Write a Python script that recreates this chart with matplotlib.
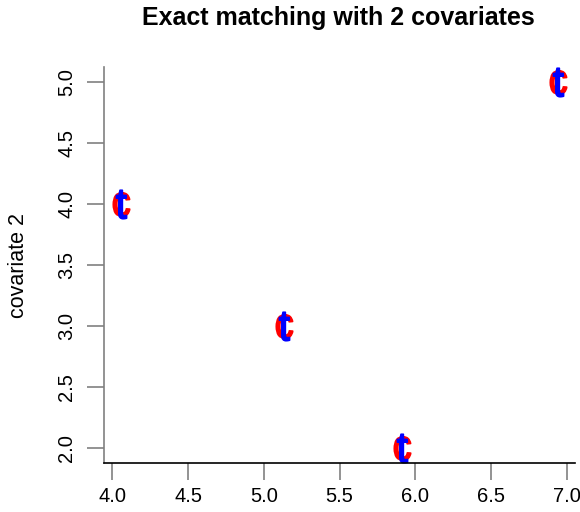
import matplotlib
matplotlib.use("Agg")
import matplotlib.pyplot as plt
from matplotlib.textpath import TextPath
from matplotlib.font_manager import FontProperties
from matplotlib.transforms import Affine2D

plt.rcParams['font.family'] = ['Liberation Sans', 'DejaVu Sans']

# Matched pairs: control ("c") and treated ("t") share identical covariates
covariate1 = [4.06, 5.135, 5.916, 6.94]
covariate2 = [4.0, 3.0, 2.0, 5.0]
control_label = "c"
treated_label = "t"
x_ticks = [4.0, 4.5, 5.0, 5.5, 6.0, 6.5, 7.0]
y_ticks = [2.0, 2.5, 3.0, 3.5, 4.0, 4.5, 5.0]

W, H = 580, 512
fig = plt.figure(figsize=(W / 100, H / 100), dpi=100)
ax = fig.add_axes([104 / W, 1 - 463 / H, (575 - 104) / W, (463 - 67) / H])


def padded(vals, frac=0.04):
    lo, hi = min(vals), max(vals)
    d = (hi - lo) * frac
    return lo - d, hi + d


def letter_marker(ch, aspect):
    """Glyph outline centred on the origin, reshaped to width/height = aspect."""
    fp = FontProperties(family="Liberation Sans", weight="normal")
    p = TextPath((0, 0), ch, size=10, prop=fp)
    ext = p.get_extents()
    cx, cy = (ext.x0 + ext.x1) / 2, (ext.y0 + ext.y1) / 2
    sx = aspect * ext.height / ext.width
    tr = Affine2D().translate(-cx, -cy).scale(sx, 1.0)
    return tr.transform_path(p)


ax.set_xlim(*padded(covariate1))
ax.set_ylim(*padded(covariate2))

c_marker = letter_marker(control_label, 16 / 23)
t_marker = letter_marker(treated_label, 10 / 28)

ax.plot(covariate1, covariate2, linestyle="none", marker=c_marker,
        markersize=17, markerfacecolor="red", markeredgecolor="red",
        markeredgewidth=1.2)
ax.plot(covariate1, covariate2, linestyle="none",
        marker=t_marker, markersize=20.5, markerfacecolor="blue",
        markeredgecolor="blue", markeredgewidth=1.2)

ax.spines['top'].set_visible(False)
ax.spines['right'].set_visible(False)
ax.spines['left'].set_color("#808080")
ax.spines['bottom'].set_color("black")
ax.spines['left'].set_linewidth(1.2)
ax.spines['bottom'].set_linewidth(1.2)

ax.set_xticks(x_ticks)
ax.set_xticklabels([f"{v:.1f}" for v in x_ticks])
ax.set_yticks(y_ticks)
ax.set_yticklabels([f"{v:.1f}" for v in y_ticks], rotation=90, va="center")
ax.tick_params(axis="both", colors="#808080", length=12, width=1.2,
               labelsize=14.5, labelcolor="black")
ax.tick_params(axis="x", pad=5)
ax.tick_params(axis="y", pad=8)

ax.set_ylabel("covariate 2", fontsize=15.5, labelpad=20)
fig.text(338 / W, 1 - 18 / H, "Exact matching with 2 covariates",
         ha="center", va="center", fontsize=18, fontweight="bold")

fig.savefig("out.png", dpi=100)
